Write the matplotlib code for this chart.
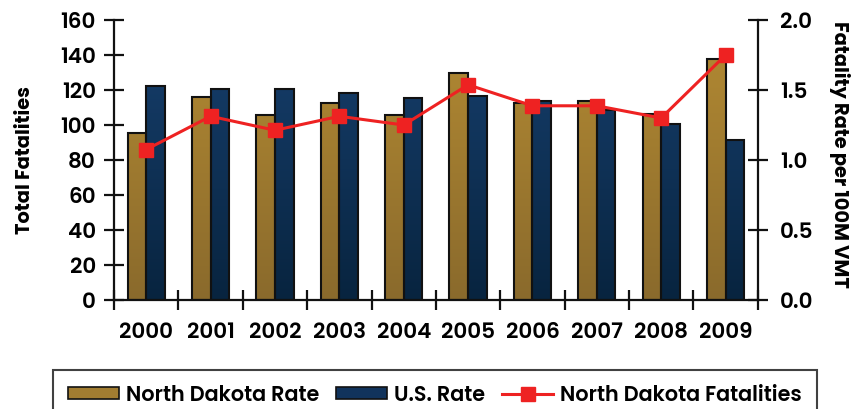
import matplotlib
matplotlib.use("Agg")
import matplotlib.pyplot as plt
import numpy as np
from matplotlib.colors import LinearSegmentedColormap
from matplotlib.patches import Patch
from matplotlib.lines import Line2D
from matplotlib import font_manager

years = ["2000", "2001", "2002", "2003", "2004", "2005", "2006", "2007", "2008", "2009"]
nd_rate = [1.19, 1.45, 1.32, 1.41, 1.32, 1.62, 1.41, 1.42, 1.33, 1.72]
us_rate = [1.53, 1.51, 1.51, 1.48, 1.44, 1.46, 1.42, 1.36, 1.26, 1.14]
nd_fatalities = [86, 105, 97, 105, 100, 123, 111, 111, 104, 140]

names = {f.name for f in font_manager.fontManager.ttflist}
def pick(cands):
    for c in cands:
        if c in names:
            return c
    return "DejaVu Sans"

geo = pick(["Poppins", "Lato", "DejaVu Sans"])
heavy = pick(["Poppins", "Lato", "DejaVu Sans"])

fig = plt.figure(figsize=(8.64, 4.09), dpi=100)
ax = fig.add_axes([0.132, 0.2665, 0.745, 0.6845])
ax2 = ax.twinx()

x = np.arange(len(years))
w = 0.29

gold = LinearSegmentedColormap.from_list("g", ["#8a6a2c", "#b48b33"])
blue = LinearSegmentedColormap.from_list("b", ["#08243f", "#17406f"])

ax.set_ylim(0, 160)
ax.set_xlim(-0.5, len(years) - 0.5)

def grad_bars(axis, xs, vals, cmap):
    bars = axis.bar(xs, vals, width=w, facecolor="none", edgecolor="#111111", linewidth=1.5, zorder=3)
    grad = np.linspace(0, 1, 256).reshape(-1, 1)
    for b in bars:
        x0 = b.get_x()
        x1 = x0 + b.get_width()
        im = axis.imshow(grad, cmap=cmap, aspect="auto", origin="lower",
                         extent=(x0, x1, 0, 2.0), zorder=2)
        im.set_clip_path(b)
    return bars

ax2.set_zorder(1)
ax.set_zorder(2)
ax.patch.set_visible(False)

grad_bars(ax2, x - w / 2, nd_rate, gold)
grad_bars(ax2, x + w / 2, us_rate, blue)
ax2.set_xlim(-0.5, len(years) - 0.5)
ax2.set_ylim(0, 2.0)

ax.plot(x, nd_fatalities, color="#ee2222", linewidth=2.2, marker="s", markersize=10.5,
        markerfacecolor="#ee2222", markeredgecolor="#ee2222", zorder=5)

for a in (ax, ax2):
    for s in a.spines.values():
        s.set_visible(False)
ax.spines["left"].set_visible(True)
ax.spines["bottom"].set_visible(True)
ax2.spines["right"].set_visible(True)
for s in (ax.spines["left"], ax.spines["bottom"], ax2.spines["right"]):
    s.set_linewidth(1.6)
    s.set_color("#111111")

ax.set_yticks(np.arange(0, 161, 20))
ax2.set_yticks(np.arange(0, 2.01, 0.5))
ax2.set_yticklabels([f"{v:.1f}" for v in np.arange(0, 2.01, 0.5)])
ax.set_xticks(np.arange(-0.5, len(years), 1.0))
ax.set_xticklabels([])
ax.set_xticks(x, minor=True)
ax.set_xticklabels(years, minor=True, fontfamily=geo, fontweight=600, fontsize=15.5)
ax.tick_params(axis="x", which="minor", length=0, pad=16)
ax.tick_params(axis="x", which="major", direction="inout", length=14, width=1.6, color="#111111")
ax.tick_params(axis="y", direction="inout", length=14, width=1.6, color="#111111", pad=6,
               labelsize=15.5)
ax2.tick_params(axis="y", direction="inout", length=14, width=1.6, color="#111111", pad=9,
                labelsize=15.5)
ax2.tick_params(axis="x", bottom=False, labelbottom=False)
for lab in ax.get_yticklabels() + ax2.get_yticklabels():
    lab.set_fontfamily(geo)
    lab.set_fontweight(600)

fig.text(0.029, 0.609, "Total Fatalities", rotation=90, ha="center", va="center",
         fontsize=14, fontweight="bold", fontfamily=heavy)
fig.text(0.972, 0.622, "Fatality Rate per 100M VMT", rotation=270, ha="center", va="center",
         fontsize=14, fontweight="bold", fontfamily=heavy)

handles = [
    Patch(facecolor="#a27d31", edgecolor="#111111", linewidth=1.2),
    Patch(facecolor="#11335c", edgecolor="#111111", linewidth=1.2),
    Line2D([0], [0], color="#ee2222", linewidth=2.2, marker="s", markersize=10,
           markerfacecolor="#ee2222", markeredgecolor="#ee2222"),
]
leg = fig.legend(handles, ["North Dakota Rate", "U.S. Rate", "North Dakota Fatalities"],
                 loc="upper center", bbox_to_anchor=(0.5035, 0.0954), ncol=3, frameon=True,
                 fancybox=False, edgecolor="#111111", handlelength=2.45, handleheight=0.5,
                 columnspacing=0.8, handletextpad=0.35, borderpad=0.7, borderaxespad=0,
                 prop={"family": geo, "weight": 600, "size": 15})
leg.get_frame().set_linewidth(1.5)

fig.savefig("out.png", dpi=100)
